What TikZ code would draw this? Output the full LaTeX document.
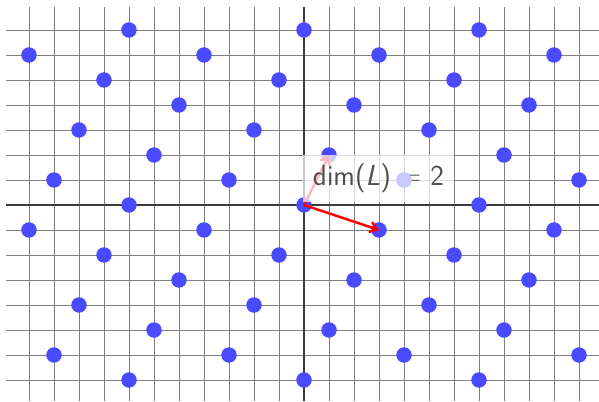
\documentclass[tikz,border=0pt]{standalone}
\usepackage{fontspec}
\usetikzlibrary{arrows.meta}
\definecolor{dotblue}{RGB}{74,74,255}
\definecolor{fadedblue}{RGB}{202,202,255}
\definecolor{gridgray}{RGB}{128,128,128}
\definecolor{axisgray}{RGB}{60,60,60}
\definecolor{labelgray}{RGB}{80,80,80}
\tikzset{
  gridline/.style={gridgray, line width=1.05pt},
  axisline/.style={axisgray, line width=2pt},
  latdot/.style={fill=dotblue},
  basisvec/.style={red, line width=2.8pt, -{Straight Barb[length=0.28cm,width=0.42cm]}},
  dimlabel/.style={fill=white, fill opacity=0.72, text opacity=1, text=labelgray,
    font=\sffamily\fontsize{33}{37}\selectfont, minimum width=6.04cm, minimum height=1.88cm, inner sep=0pt}
}
\begin{document}
\begin{tikzpicture}
\useasboundingbox (-12.16,-7.88) rectangle (11.8,8.2);
\draw[gridline] (-11.9,-7.85) grid (11.85,7.9);
\draw[axisline] (-11.9,0) -- (11.85,0);
\draw[axisline] (0,-7.85) -- (0,7.9);
\foreach \x in {-11,...,11}{
  \foreach \y in {-7,...,7}{
    \pgfmathtruncatemacro{\r}{mod(2*\x-\y+70,7)}
    \ifnum\r=0
      \fill[latdot] (\x,\y) circle (0.31);
    \fi
  }
}
\coordinate (O) at (0,0);
\coordinate (A) at (3,-1);
\coordinate (B) at (1,2);
\coordinate (C) at (4,1);
\draw[basisvec] (O) -- (A);
\draw[basisvec] (O) -- (B);
\node[dimlabel] (lbl) at (2.98,1.06) {dim(\textit{L}) = 2};
\fill[fadedblue] (C) circle (0.31);
\end{tikzpicture}
\end{document}
